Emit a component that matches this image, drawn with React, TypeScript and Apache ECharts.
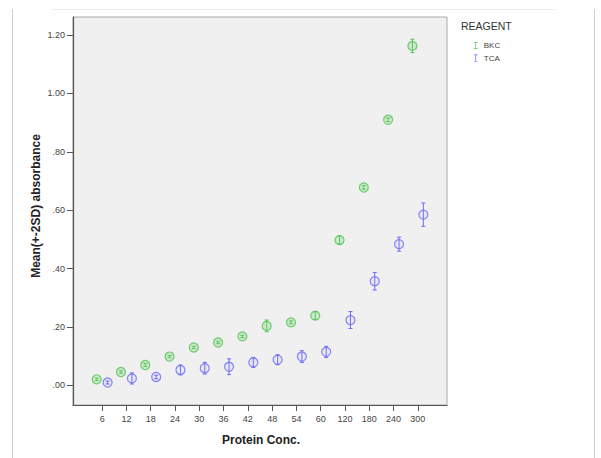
import React, { useEffect, useRef } from "react";
import * as echarts from "echarts";

const categories = ["6", "12", "18", "24", "30", "36", "42", "48", "54", "60", "120", "180", "240", "300"];
const bkcMean = [0.021, 0.046, 0.070, 0.099, 0.130, 0.147, 0.168, 0.204, 0.216, 0.239, 0.498, 0.678, 0.910, 1.163];
const bkcErr = [0.004, 0.004, 0.005, 0.004, 0.004, 0.004, 0.004, 0.020, 0.005, 0.013, 0.014, 0.006, 0.006, 0.023];
const tcaMean = [0.010, 0.024, 0.029, 0.053, 0.059, 0.064, 0.079, 0.088, 0.099, 0.115, 0.224, 0.357, 0.484, 0.585];
const tcaErr = [0.005, 0.019, 0.006, 0.017, 0.020, 0.027, 0.017, 0.017, 0.020, 0.019, 0.029, 0.030, 0.024, 0.040];
const yTicks = [0, 0.2, 0.4, 0.6, 0.8, 1.0, 1.2];

const GREEN = "#52c452";
const BLUE = "#6b6bf5";
const OFFSET = 0.225;
const FONT = "Liberation Sans, Arial, sans-serif";
const IBEAM = "path://M0,0H5V1H3V9H5V10H0V9H2V1H0Z";

function errorSeries(name: string, mean: number[], err: number[], off: number, color: string) {
  return {
    type: "custom",
    name,
    z: 2,
    encode: { x: 0, y: [1, 2] },
    data: mean.map((m, i) => [i + off, m - err[i], m + err[i]]),
    renderItem: (_p: any, api: any) => {
      const x = api.value(0);
      const lo = api.coord([x, api.value(1)]);
      const hi = api.coord([x, api.value(2)]);
      const cap = 2;
      const st = { stroke: color, lineWidth: 1 };
      return {
        type: "group",
        children: [
          { type: "line", shape: { x1: lo[0], y1: lo[1], x2: hi[0], y2: hi[1] }, style: st },
          { type: "line", shape: { x1: lo[0] - cap, y1: lo[1], x2: lo[0] + cap, y2: lo[1] }, style: st },
          { type: "line", shape: { x1: hi[0] - cap, y1: hi[1], x2: hi[0] + cap, y2: hi[1] }, style: st },
        ],
      };
    },
  };
}

function pointSeries(name: string, mean: number[], off: number, color: string, fill: string) {
  return {
    type: "scatter",
    name,
    z: 3,
    symbol: "circle",
    symbolSize: 9,
    itemStyle: { color: fill, borderColor: color, borderWidth: 1.2 },
    data: mean.map((m, i) => [i + off, m]),
  };
}

export default function App() {
  const ref = useRef<HTMLDivElement>(null);
  useEffect(() => {
    if (!ref.current) return;
    const chart = echarts.init(ref.current, undefined, { renderer: "svg" });
    const idx = categories.map((_, i) => i);
    chart.setOption({
      animation: false,
      backgroundColor: "#ffffff",
      grid: {
        left: 73,
        right: 154,
        top: 17,
        bottom: 53,
        show: true,
        backgroundColor: "#f0f0f0",
        borderColor: "#a8a8a8",
        borderWidth: 1,
      },
      xAxis: {
        type: "value",
        min: -1.2,
        max: 14.2,
        splitLine: { show: false },
        axisLine: { show: true, onZero: false, lineStyle: { color: "#555", width: 1.2 } },
        axisTick: { show: true, customValues: idx, length: 6, lineStyle: { color: "#555" } },
        axisLabel: {
          customValues: idx,
          formatter: (v: number) => categories[Math.round(v)] ?? "",
          fontSize: 9,
          color: "#444",
          fontFamily: FONT,
          margin: 9,
        },
      },
      yAxis: {
        type: "value",
        min: -0.067,
        max: 1.262,
        splitLine: { show: false },
        axisLine: { show: true, onZero: false, lineStyle: { color: "#555", width: 1.2 } },
        axisTick: { show: true, customValues: yTicks, length: 6, lineStyle: { color: "#555" } },
        axisLabel: {
          customValues: yTicks,
          formatter: (v: number) => v.toFixed(2).replace(/^0/, ""),
          fontSize: 9,
          color: "#444",
          fontFamily: FONT,
          margin: 8,
        },
      },
      legend: {
        left: 469,
        top: 35.5,
        orient: "vertical",
        selectedMode: false,
        itemWidth: 4,
        itemHeight: 7,
        itemGap: 2.6,
        textStyle: { fontSize: 8, color: "#444", fontFamily: FONT, lineHeight: 10, padding: [0, 0, 0, 1] },
        data: [
          { name: "BKC", icon: IBEAM, itemStyle: { color: GREEN } },
          { name: "TCA", icon: IBEAM, itemStyle: { color: BLUE } },
        ],
      },
      graphic: [
        { type: "line", shape: { x1: 12.5, y1: 9, x2: 12.5, y2: 458 }, style: { stroke: "#cfcfcf", lineWidth: 1 }, silent: true },
        { type: "line", shape: { x1: 594.5, y1: 9, x2: 594.5, y2: 458 }, style: { stroke: "#cfcfcf", lineWidth: 1 }, silent: true },
        { type: "line", shape: { x1: 52, y1: 9.5, x2: 555, y2: 9.5 }, style: { stroke: "#ececec", lineWidth: 1 }, silent: true },
        {
          type: "text",
          x: 461,
          y: 26,
          style: { text: "REAGENT", fontSize: 10.5, fill: "#333", fontFamily: FONT, textVerticalAlign: "middle" },
          silent: true,
        },
        {
          type: "text",
          x: 35.5,
          y: 206,
          rotation: Math.PI / 2,
          style: {
            text: "Mean(+-2SD) absorbance",
            fontSize: 12,
            fontWeight: "bold",
            fill: "#222",
            fontFamily: FONT,
            textAlign: "center",
            textVerticalAlign: "middle",
          },
          silent: true,
        },
        {
          type: "text",
          x: 261,
          y: 440,
          style: {
            text: "Protein Conc.",
            fontSize: 12,
            fontWeight: "bold",
            fill: "#222",
            fontFamily: FONT,
            textAlign: "center",
            textVerticalAlign: "middle",
          },
          silent: true,
        },
      ],
      series: [
        errorSeries("BKC", bkcMean, bkcErr, -OFFSET, GREEN),
        errorSeries("TCA", tcaMean, tcaErr, OFFSET, BLUE),
        pointSeries("BKC", bkcMean, -OFFSET, GREEN, "rgba(120,210,120,0.35)"),
        pointSeries("TCA", tcaMean, OFFSET, BLUE, "rgba(150,150,255,0.12)"),
      ],
    });
    return () => chart.dispose();
  }, []);
  return <div ref={ref} style={{ position: "fixed", left: 0, top: 0, width: 601, height: 458 }} />;
}
